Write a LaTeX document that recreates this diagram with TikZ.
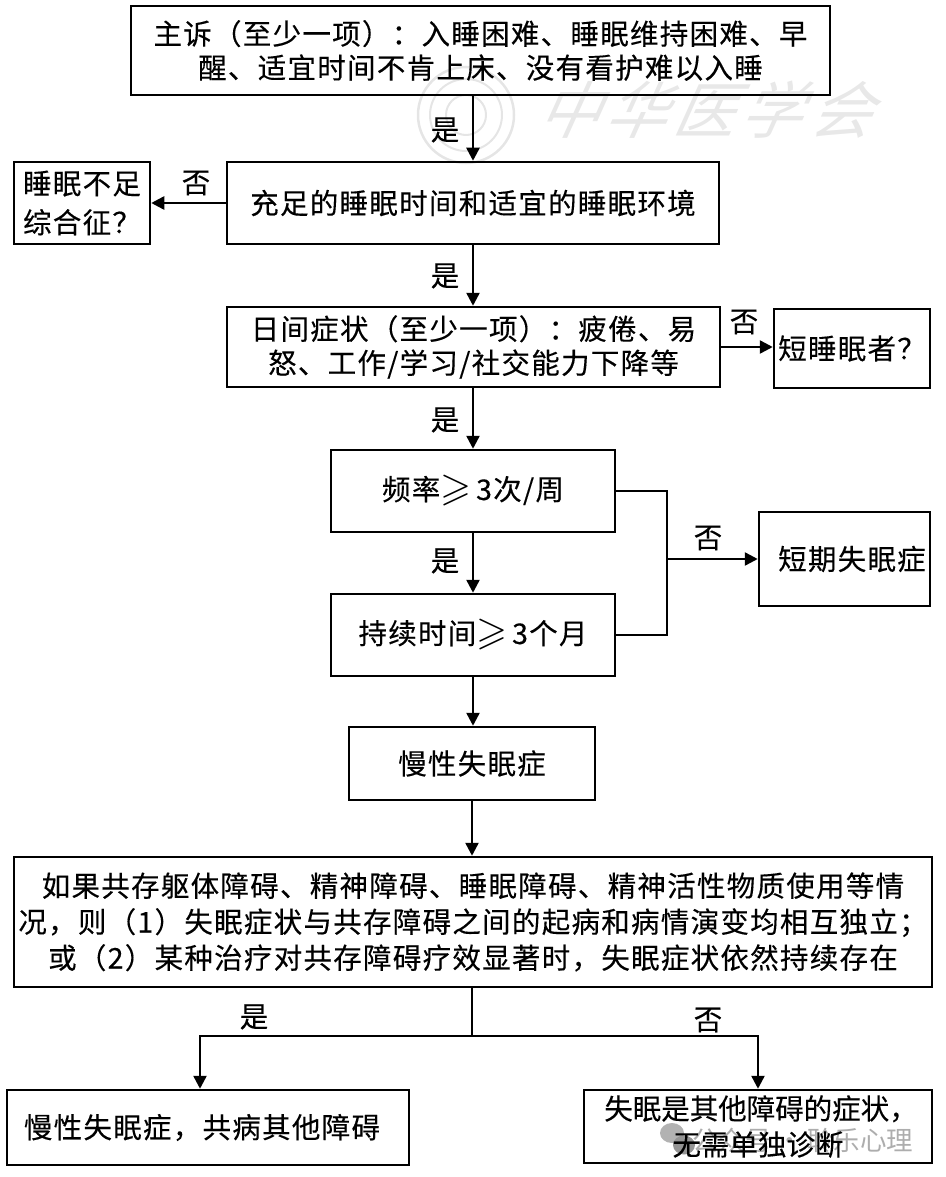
\documentclass[tikz,border=0pt]{standalone}
\usepackage{amssymb}
\usepackage{fontspec}
\setmainfont{Noto Sans CJK SC}[LetterSpace=4.5,FakeBold=0.25]
\newfontfamily\wmfont{Noto Sans CJK SC}
\usetikzlibrary{arrows.meta}
\newcommand{\gq}{\raisebox{-1pt}{\scalebox{1.4}{$\geqslant$}}\,}
\tikzset{
  boxnode/.style={draw=black,line width=2.5pt,inner sep=0pt,align=center,text=black,
    font=\fontsize{28.5}{34}\selectfont},
  arrowline/.style={draw=black,line width=2.5pt,-{Triangle[length=13pt,width=13pt]}},
  plainline/.style={draw=black,line width=2.5pt},
  lab/.style={inner sep=0pt,text=black,font=\fontsize{28.5}{34}\selectfont},
  wmchar/.style={inner sep=0pt,text=black!9,xslant=0.45,transform shape,font=\wmfont\fontsize{62}{62}\selectfont},
  wmtext/.style={inner sep=0pt,text=black!32,font=\wmfont\fontsize{26.5}{30}\selectfont,anchor=west},
  wmring/.style={draw=black!10}
}
\begin{document}
\begin{tikzpicture}[x=1pt,y=-1pt]
\useasboundingbox (0,0) rectangle (945,1177);
% watermarks
\draw[wmring,line width=2.5pt] (466,115) circle (48);
\draw[wmring,line width=2pt] (466,115) circle (36);
\draw[wmring,line width=2pt] (466,115) circle (20);
\node[wmchar] (w1) at (578,110) {中};
\node[wmchar] (w2) at (645,110) {华};
\node[wmchar] (w3) at (713,110) {医};
\node[wmchar] (w4) at (780,110) {学};
\node[wmchar] (w5) at (850,110) {会};
\fill[black!30] (672,1133) ellipse (12 and 10);
\fill[black!42] (684,1145) ellipse (11 and 9.5);
\node[wmtext] (w6) at (692,1140) {公众号\,·\,聆乐心理};
% boxes
\node[boxnode,minimum width=699pt,minimum height=89pt] (a) at (480.5,50.5) {主诉（至少一项）：入睡困难、睡眠维持困难、早\\醒、适宜时间不肯上床、没有看护难以入睡};
\node[boxnode,minimum width=492pt,minimum height=82pt] (b) at (473,203) {充足的睡眠时间和适宜的睡眠环境};
\node[boxnode,minimum width=136pt,minimum height=82pt,font=\fontsize{28.5}{39}\selectfont] (bl) at (82,203) {睡眠不足\\综合征？};
\node[boxnode,minimum width=493pt,minimum height=80pt] (c) at (473.5,347) {日间症状（至少一项）：疲倦、易\\怒、工作/学习/社交能力下降等};
\node[boxnode,minimum width=156pt,minimum height=79pt] (cr) at (852,348.5) {短睡眠者？};
\node[boxnode,minimum width=284pt,minimum height=82pt] (d) at (473,491) {频率\gq 3次/周};
\node[boxnode,minimum width=284pt,minimum height=82pt] (e) at (473,635) {持续时间\gq 3个月};
\node[boxnode,minimum width=171pt,minimum height=94pt] (f) at (844.5,559) {\hspace*{15pt}短期失眠症};
\node[boxnode,minimum width=246pt,minimum height=73pt] (g) at (472,763.5) {慢性失眠症};
\node[boxnode,minimum width=918pt,minimum height=130pt,font=\fontsize{28.5}{36}\selectfont] (h) at (473,922) {如果共存躯体障碍、精神障碍、睡眠障碍、精神活性物质使用等情\\况，则（1）失眠症状与共存障碍之间的起病和病情演变均相互独立；\\或（2）某种治疗对共存障碍疗效显著时，失眠症状依然持续存在};
\node[boxnode,minimum width=402pt,minimum height=75pt] (i) at (208,1127.5) {慢性失眠症，共病其他障碍\hspace*{12pt}};
\node[boxnode,minimum width=348pt,minimum height=73pt,font=\fontsize{28.5}{36}\addfontfeature{LetterSpace=0}\selectfont] (j) at (758,1126.5) {\hspace*{6pt}失眠是其他障碍的症状，\\无需单独诊断};
% junction coordinates
\coordinate (jr) at (667,559);
\coordinate (jb) at (472,1036);
% connectors
\draw[arrowline] (a.south -| b.north) -- (b.north);
\draw[arrowline] (b.west) -- (bl.east);
\draw[arrowline] (b.south) -- (c.north -| b.south);
\draw[arrowline] (c.east) -- (cr.west |- c.east);
\draw[arrowline] (c.south -| d.north) -- (d.north);
\draw[arrowline] (d.south) -- (e.north);
\draw[arrowline] (e.south) -- (g.north -| e.south);
\draw[arrowline] (g.south) -- (h.north -| g.south);
\draw[plainline] (d.east) -| (jr) |- (e.east);
\draw[arrowline] (jr) -- (f.west);
\draw[plainline] (h.south -| jb) -- (jb);
\draw[arrowline] (jb) -| (i.north -| 200,0);
\draw[arrowline] (jb) -| (j.north);
% labels
\node[lab] (l1) at (445,130) {是};
\node[lab] (l2) at (196,183) {否};
\node[lab] (l3) at (445,276) {是};
\node[lab] (l4) at (744,322) {否};
\node[lab] (l5) at (445,420) {是};
\node[lab] (l6) at (445,561) {是};
\node[lab] (l7) at (708,538) {否};
\node[lab] (l8) at (254,1017) {是};
\node[lab] (l9) at (708,1020) {否};
\end{tikzpicture}
\end{document}
